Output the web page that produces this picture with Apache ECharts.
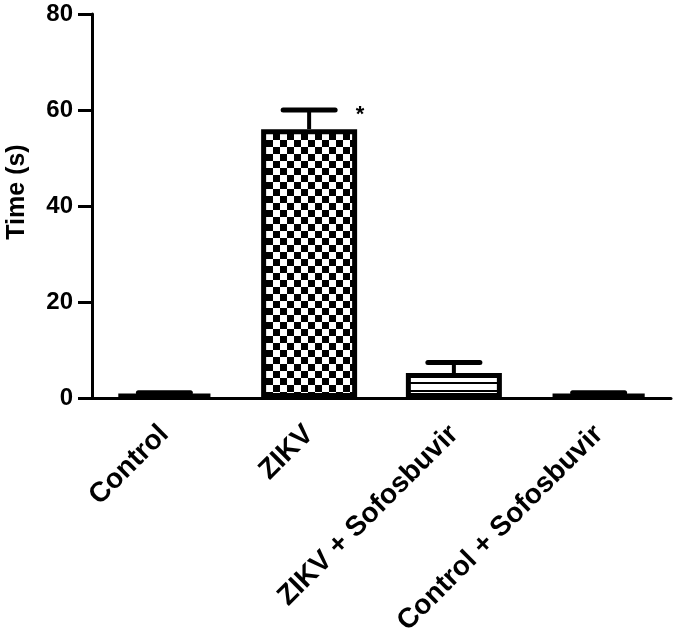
<!DOCTYPE html>
<html>
<head>
<meta charset="utf-8">
<script src="https://cdn.jsdelivr.net/npm/echarts@6/dist/echarts.min.js"></script>
<style>
html,body{margin:0;padding:0;background:#fff;}
#chart{width:675px;height:644px;}
</style>
</head>
<body>
<div id="chart"></div>
<script>
const categories = ['Control', 'ZIKV', 'ZIKV + Sofosbuvir', 'Control + Sofosbuvir'];
const means = [0.8, 56, 5.2, 0.8];
const errors = [0.3, 4, 2.2, 0.3];
const significance = ['', '*', '', ''];
const patterns = ['plain', 'checker', 'stripes', 'plain'];
const yTicks = { min: 0, max: 80, interval: 20 };

function makePattern(kind) {
  const c = document.createElement('canvas');
  if (kind === 'checker') {
    c.width = 14; c.height = 14;
    const g = c.getContext('2d');
    g.fillStyle = '#fff'; g.fillRect(0, 0, 14, 14);
    g.fillStyle = '#000';
    g.fillRect(0, 0, 7, 7);
    g.fillRect(7, 7, 7, 7);
    return { image: c, repeat: 'repeat' };
  }
  if (kind === 'stripes') {
    c.width = 8; c.height = 8;
    const g = c.getContext('2d');
    g.fillStyle = '#fff'; g.fillRect(0, 0, 8, 8);
    g.fillStyle = '#000';
    g.fillRect(0, 6, 8, 2);
    return { image: c, repeat: 'repeat' };
  }
  return '#ffffff';
}

const font = '"Liberation Sans", Arial, sans-serif';
const chart = echarts.init(document.getElementById('chart'), null, { renderer: 'canvas' });

const barData = means.map((v, i) => ({
  value: v,
  itemStyle: { color: makePattern(patterns[i]) }
}));
const errData = means.map((v, i) => [i, v, errors[i], significance[i]]);

chart.setOption({
  animation: false,
  backgroundColor: '#fff',
  grid: { left: 92, right: 4, top: 14, bottom: 246, containLabel: false, outerBoundsMode: 'none' },
  xAxis: {
    type: 'category',
    data: categories,
    axisLine: { lineStyle: { color: '#000', width: 3 } },
    axisTick: { alignWithLabel: true, length: 10, lineStyle: { color: '#000', width: 3 } },
    axisLabel: {
      rotate: 45, margin: 32, color: '#000', fontFamily: font,
      fontWeight: 'bold', fontSize: 28, interval: 0
    }
  },
  yAxis: {
    type: 'value',
    min: yTicks.min, max: yTicks.max, interval: yTicks.interval,
    name: 'Time (s)',
    nameLocation: 'middle',
    nameGap: 62,
    nameTextStyle: { color: '#000', fontFamily: font, fontWeight: 'bold', fontSize: 25, padding: [0, 0, 0, 28] },
    axisLine: { show: true, lineStyle: { color: '#000', width: 3 } },
    axisTick: { show: true, length: 14, lineStyle: { color: '#000', width: 3 } },
    axisLabel: { margin: 19, color: '#000', fontFamily: font, fontWeight: 'bold', fontSize: 24 },
    splitLine: { show: false }
  },
  series: [
    {
      type: 'bar',
      data: barData,
      barWidth: 96,
      itemStyle: { borderColor: '#000', borderWidth: 5 },
      z: 2
    },
    {
      type: 'custom',
      data: errData,
      z: 3,
      renderItem: function (params, api) {
        const i = api.value(0), m = api.value(1), e = api.value(2);
        const base = api.coord([i, m]);
        const top = api.coord([i, m + e]);
        const half = 26;
        const children = [
          { type: 'line', shape: { x1: base[0], y1: base[1], x2: top[0], y2: top[1] },
            style: { stroke: '#000', lineWidth: 4 } },
          { type: 'line', shape: { x1: top[0] - half, y1: top[1], x2: top[0] + half, y2: top[1] },
            style: { stroke: '#000', lineWidth: 5, lineCap: 'round' } }
        ];
        const sig = errData[params.dataIndex][3];
        if (sig) {
          children.push({ type: 'text', x: top[0] + 51, y: top[1] + 5,
            style: { text: sig, fill: '#000', font: 'bold 22px ' + font, align: 'center', verticalAlign: 'middle' } });
        }
        return { type: 'group', children: children };
      }
    }
  ]
});
</script>
</body>
</html>
